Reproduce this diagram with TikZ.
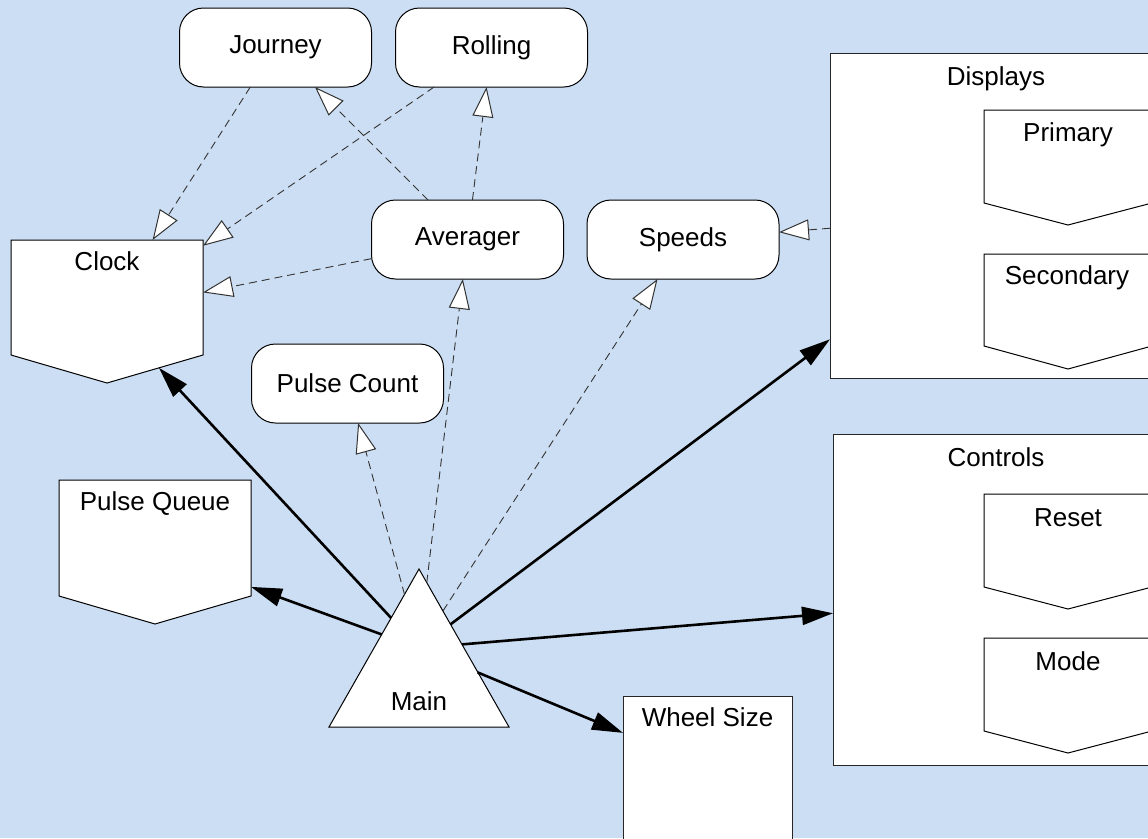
\documentclass[tikz,border=0pt]{standalone}
\usepackage{fontspec}
\setmainfont{Liberation Sans}
\usetikzlibrary{arrows.meta}
\definecolor{bgblue}{RGB}{204,222,243}
\newcommand\fs{\fontsize{26}{31}\selectfont}
\newcommand\pentbox[2]{\path[pentline] (#1.north west) -- (#1.north east) -- ([yshift=#2pt]#1.south east) -- (#1.south) -- ([yshift=#2pt]#1.south west) -- cycle;}
\tikzset{
  every node/.style={font=\fs, outer sep=0pt},
  rbox/.style={draw=black, line width=1pt, fill=white, rounded corners=24pt,
    minimum width=192pt, minimum height=79pt, inner sep=0pt},
  frame/.style={draw=black!85, line width=1pt, fill=white, inner sep=0pt},
  hold/.style={inner sep=0pt},
  lbl/.style={anchor=base, inner sep=0pt},
  pentline/.style={draw=black, line width=1pt, fill=white},
  dep/.style={draw=black!80, line width=0.9pt, dash pattern=on 8pt off 5pt,
    -{Triangle[length=30pt,width=21pt,fill=white,line width=1pt]}},
  own/.style={draw=black, line width=2.6pt, -{Triangle[length=31pt,width=18pt]}}
}
\begin{document}
\begin{tikzpicture}[x=1pt,y=-1pt]
\useasboundingbox (0,0) rectangle (1148,838);
\fill[bgblue] (0,0) rectangle (1148,838);

% rounded boxes
\node[rbox] (journey) at (275.5,47.5) {Journey};
\node[rbox] (rolling) at (491.5,47.5) {Rolling};
\node[rbox] (averager) at (467.5,239.5) {Averager};
\node[rbox] (speeds) at (683,239.5) {Speeds};
\node[rbox] (pulsecount) at (347.5,383.5) {Pulse Count};

% clock
\node[hold, minimum width=192pt, minimum height=143pt] (clock) at (107,311.5) {};
\pentbox{clock}{28}
\node[lbl] (clocktxt) at ([yshift=-30pt]clock.north) {Clock};

% pulse queue
\node[hold, minimum width=192pt, minimum height=144pt] (pulsequeue) at (155,552) {};
\pentbox{pulsequeue}{28}
\node[lbl] (pqtxt) at ([yshift=-30.7pt]pulsequeue.north) {Pulse Queue};

% displays
\node[frame, minimum width=332pt, minimum height=325pt] (displays) at (996,215.5) {};
\node[lbl] (disptxt) at ([yshift=-32.7pt]displays.north) {Displays};
\node[hold, minimum width=168pt, minimum height=115pt] (primary) at (1068,167.5) {};
\pentbox{primary}{22}
\node[lbl] (primtxt) at ([yshift=-31pt]primary.north) {Primary};
\node[hold, minimum width=168pt, minimum height=115pt] (secondary) at (1068,311.5) {};
\pentbox{secondary}{23}
\node[lbl] (sectxt) at ([xshift=-1pt,yshift=-30pt]secondary.north) {Secondary};

% controls
\node[frame, minimum width=329pt, minimum height=331pt] (controls) at (997.5,599.5) {};
\node[lbl] (ctrltxt) at ([xshift=-1.5pt,yshift=-32pt]controls.north) {Controls};
\node[hold, minimum width=168pt, minimum height=115pt] (reset) at (1068,551.5) {};
\pentbox{reset}{22}
\node[lbl] (resettxt) at ([yshift=-32.7pt]reset.north) {Reset};
\node[hold, minimum width=168pt, minimum height=115pt] (mode) at (1068,695.5) {};
\pentbox{mode}{22}
\node[lbl] (modetxt) at ([yshift=-32pt]mode.north) {Mode};

% wheel size
\node[frame, minimum width=169pt, minimum height=144pt] (wheel) at (707.5,768) {};
\node[lbl] (wheeltxt) at ([yshift=-30.7pt]wheel.north) {Wheel Size};

% main triangle
\node[hold, minimum size=0pt] (main) at (419,648) {};
\path[pentline] ([yshift=79pt]main.center) -- ([xshift=90pt,yshift=-79pt]main.center) -- ([xshift=-90pt,yshift=-79pt]main.center) -- cycle;
\node[lbl] (maintxt) at ([yshift=-62pt]main.center) {Main};

% dependency connectors
\draw[dep] (journey) -- (clock);
\draw[dep] (rolling) -- (clock);
\draw[dep] (averager) -- (journey);
\draw[dep] (averager) -- (rolling);
\draw[dep] (averager) -- (clock);
\draw[dep] (displays) -- (speeds);
\draw[dep, shorten <=55.5pt] (main) -- (pulsecount);
\draw[dep, shorten <=65.8pt] (main) -- (averager);
\draw[dep, shorten <=44.1pt] (main) -- (speeds);

% ownership connectors
\draw[own, shorten <=41pt, shorten >=-20.7pt] (main) -- (clock);
\draw[own, shorten <=39.7pt] (main) -- (pulsequeue);
\draw[own, shorten <=39.4pt] (main) -- (displays);
\draw[own, shorten <=43.1pt] (main) -- (controls);
\draw[own, shorten <=63.6pt] (main) -- (wheel);
\end{tikzpicture}
\end{document}
